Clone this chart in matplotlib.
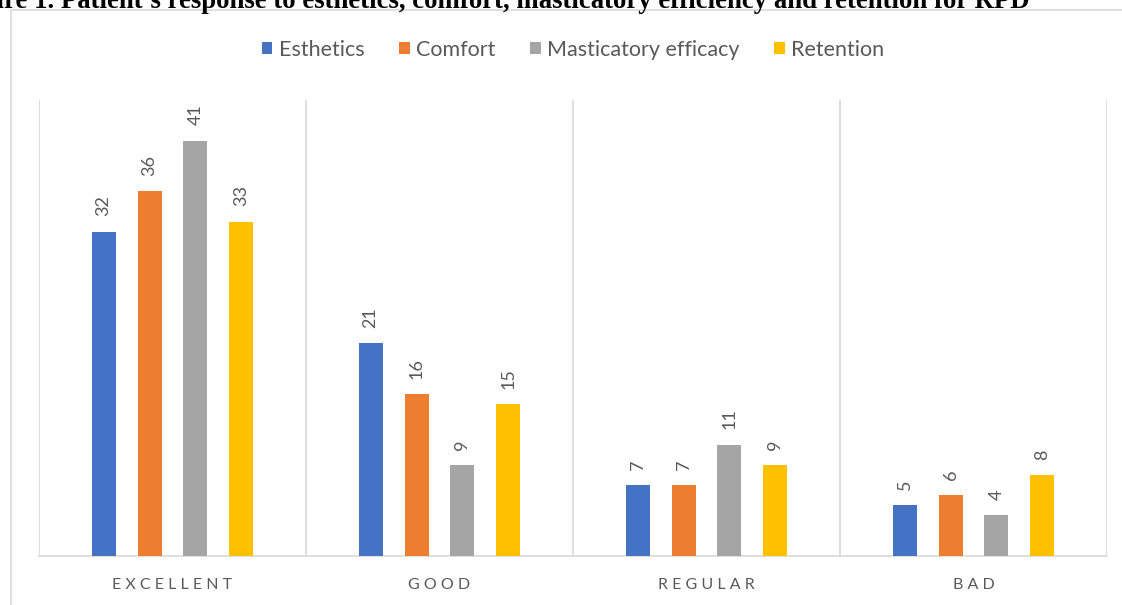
import matplotlib.pyplot as plt
from matplotlib.patches import Rectangle

# data
categories = ["EXCELLENT", "GOOD", "REGULAR", "BAD"]
series = ["Esthetics", "Comfort", "Masticatory efficacy", "Retention"]
esthetics = [32, 21, 7, 5]
comfort = [36, 16, 7, 6]
masticatory = [41, 9, 11, 4]
retention = [33, 15, 9, 8]
values = [esthetics, comfort, masticatory, retention]
colors = ["#4472C4", "#ED7D31", "#A5A5A5", "#FFC000"]

W, H = 1122, 605
fig = plt.figure(figsize=(W / 100, H / 100), dpi=100)
plt.rcParams['font.family'] = ['Lato', 'DejaVu Sans']

# outer chart border (runs off the right and bottom edge)
fig.patches.append(Rectangle((11 / W, -0.1), 1.2, 1 - 10 / H + 0.1,
                             transform=fig.transFigure, fill=False,
                             edgecolor="#d9d9d9", lw=1.2))

# caption cut off at the top of the picture
fig.text(1030 / W, 1 - 8 / H,
         "Figure 1. Patient\u2019s response to esthetics, comfort, masticatory efficiency and retention for RPD",
         ha="right", va="baseline", fontsize=19.3, fontweight="bold",
         family="Liberation Serif", color="black")

ax = fig.add_axes([39 / W, 49 / H, (1107 - 39) / W, (556 - 100) / H])
x = list(range(len(categories)))
step, width = 0.172, 0.09
for i, (name, vals, c) in enumerate(zip(series, values, colors)):
    xs = [xi + (i - 1.5) * step for xi in x]
    bars = ax.bar(xs, vals, width=width, color=c, label=name, zorder=3)
    for b, v in zip(bars, vals):
        ax.annotate(str(v), (b.get_x() + b.get_width() / 2, v),
                    xytext=(0, 11), textcoords="offset points",
                    rotation=90, ha="center", va="bottom",
                    fontsize=13, color="#595959")

ax.set_xlim(-0.5, 3.5)
ax.set_ylim(0, 45)
for xv in [-0.5, 0.5, 1.5, 2.5, 3.5]:
    ax.axvline(xv, color="#d9d9d9", lw=1.2, zorder=1)
for s in ["top", "right", "left"]:
    ax.spines[s].set_visible(False)
ax.spines["bottom"].set_color("#d9d9d9")
ax.spines["bottom"].set_linewidth(1.2)
ax.set_yticks([])
ax.set_xticks(x)
ax.set_xticklabels([" ".join(c) for c in categories], fontsize=11.5, color="#595959")
ax.tick_params(axis="x", length=0, pad=16)

ax.legend(loc="center", bbox_to_anchor=(0.5, 1 + 50 / 456), ncol=4, frameon=False,
          fontsize=15.5, handlelength=0.5, handleheight=0.5, handletextpad=0.3,
          columnspacing=1.6, labelcolor="#595959")

fig.savefig("out.png", dpi=100)
